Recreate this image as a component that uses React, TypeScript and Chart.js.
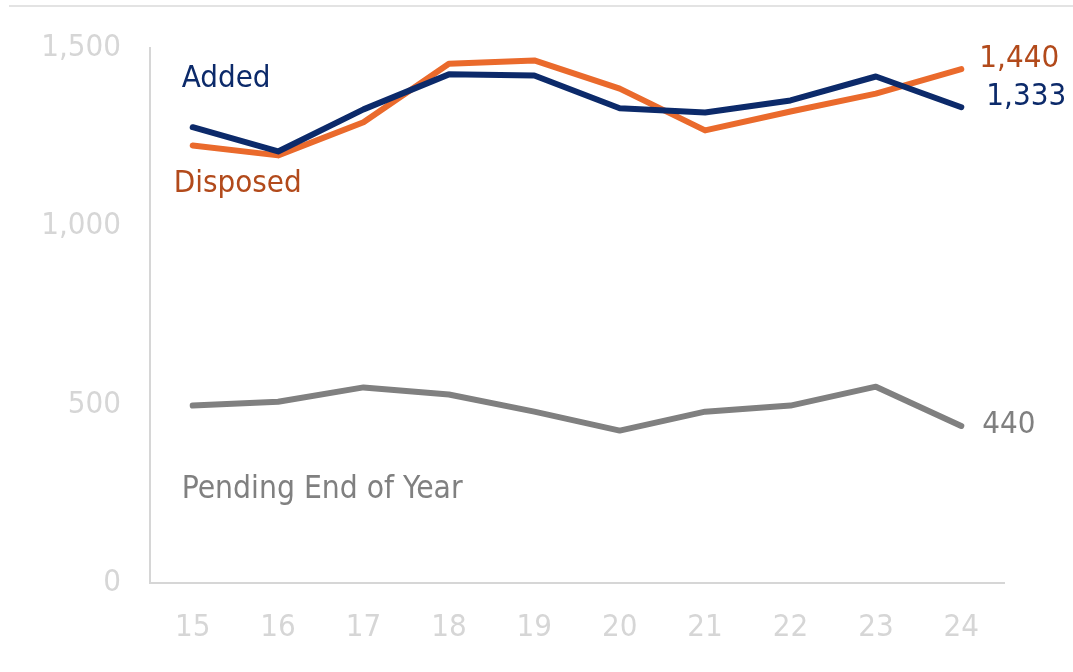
import React, { useEffect, useRef } from "react";
import Chart from "chart.js/auto";

const years = ["15", "16", "17", "18", "19", "20", "21", "22", "23", "24"];
const added = [1277, 1209, 1327, 1425, 1422, 1330, 1318, 1352, 1419, 1333];
const disposed = [1226, 1198, 1291, 1455, 1464, 1385, 1268, 1321, 1371, 1440];
const pending = [497, 508, 548, 528, 480, 427, 480, 497, 550, 440];
const yTicks = [0, 500, 1000, 1500];

const FONT = "'DejaVu Sans Condensed', 'Liberation Sans', sans-serif";
const NAVY = "#0c2a6a";
const ORANGE = "#ea6a2c";
const BROWN = "#b24a1b";
const GRAY = "#808080";
const AXIS = "#d6d6d6";

const fmt = (v: number) => v.toLocaleString("en-US");

export default function App() {
  const ref = useRef<HTMLCanvasElement | null>(null);
  useEffect(() => {
    if (!ref.current) return;
    const labelsPlugin = {
      id: "labels",
      afterDatasetsDraw(chart: any) {
        const { ctx, scales } = chart;
        const xs = scales.x;
        const ys = scales.y;
        const n = years.length - 1;
        const x0 = xs.getPixelForValue(0);
        const xn = xs.getPixelForValue(n);
        ctx.save();
        ctx.textBaseline = "middle";
        ctx.textAlign = "left";
        ctx.font = `31px ${FONT}`;
        ctx.fillStyle = NAVY;
        ctx.fillText("Added", x0 - 11, ys.getPixelForValue(added[0]) - 48);
        ctx.fillStyle = BROWN;
        ctx.fillText("Disposed", x0 - 19, ys.getPixelForValue(disposed[0]) + 39);
        ctx.fillStyle = GRAY;
        ctx.font = `31.5px ${FONT}`;
        ctx.fillText("Pending End of Year", x0 - 11, ys.getPixelForValue(pending[0]) + 84);
        ctx.font = `31px ${FONT}`;
        ctx.fillStyle = BROWN;
        ctx.fillText(fmt(disposed[n]), xn + 18, ys.getPixelForValue(disposed[n]) - 10);
        ctx.fillStyle = NAVY;
        ctx.fillText(fmt(added[n]), xn + 25, ys.getPixelForValue(added[n]) - 10);
        ctx.fillStyle = GRAY;
        ctx.fillText(fmt(pending[n]), xn + 21, ys.getPixelForValue(pending[n]) - 1);
        ctx.restore();
      },
      beforeDraw(chart: any) {
        const { ctx } = chart;
        ctx.save();
        ctx.strokeStyle = "#e3e3e3";
        ctx.lineWidth = 2;
        ctx.beginPath();
        ctx.moveTo(9, 6);
        ctx.lineTo(1073, 6);
        ctx.stroke();
        ctx.restore();
      },
    };
    const chart = new Chart(ref.current, {
      type: "line",
      data: {
        labels: years,
        datasets: [
          { label: "Pending End of Year", data: pending, borderColor: GRAY, borderWidth: 6, pointRadius: 0, tension: 0, borderCapStyle: "round", borderJoinStyle: "round" },
          { label: "Added", data: added, borderColor: NAVY, borderWidth: 6, pointRadius: 0, tension: 0, borderCapStyle: "round", borderJoinStyle: "round" },
          { label: "Disposed", data: disposed, borderColor: ORANGE, borderWidth: 6, pointRadius: 0, tension: 0, borderCapStyle: "round", borderJoinStyle: "round" },
        ],
      },
      options: {
        responsive: false,
        animation: false,
        devicePixelRatio: 1,
        layout: { padding: { top: 46, right: 69, left: 0, bottom: 0 } },
        plugins: { legend: { display: false }, tooltip: { enabled: false } },
        scales: {
          x: {
            offset: true,
            grid: { display: false, drawTicks: false },
            border: { display: true, color: AXIS, width: 2 },
            ticks: { color: AXIS, font: { family: FONT, size: 31 }, padding: 26, maxRotation: 0, autoSkip: false },
            afterFit: (s: any) => { s.height = 89; },
          },
          y: {
            min: 0,
            max: 1500,
            grid: { display: false, drawTicks: false },
            border: { display: true, color: AXIS, width: 2 },
            afterBuildTicks: (s: any) => { s.ticks = yTicks.map((v) => ({ value: v })); },
            ticks: { color: AXIS, font: { family: FONT, size: 31 }, padding: 29, callback: (v: any) => fmt(Number(v)) },
            afterFit: (s: any) => { s.width = 150; },
          },
        },
      },
      plugins: [labelsPlugin],
    } as any);
    return () => chart.destroy();
  }, []);
  return (
    <div style={{ position: "fixed", left: 0, top: 0, width: 1073, height: 672, background: "#fff" }}>
      <canvas ref={ref} width={1073} height={672} style={{ width: 1073, height: 672 }} />
    </div>
  );
}
